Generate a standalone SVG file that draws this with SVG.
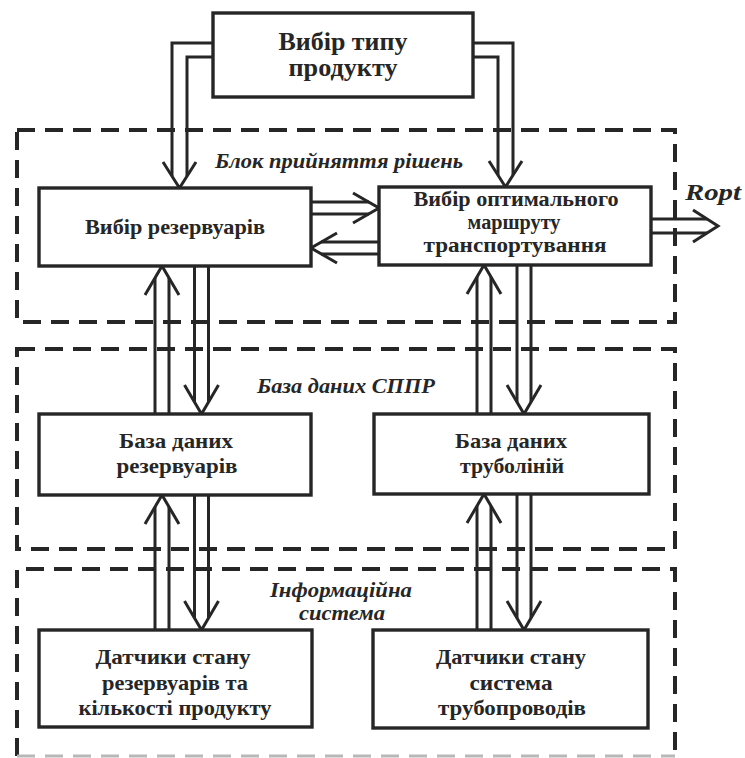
<svg xmlns="http://www.w3.org/2000/svg" width="745" height="758" viewBox="0 0 745 758">
  <style>
    .zone { fill: none; stroke: #262626; stroke-width: 4; stroke-dasharray: 18 10; }
    .zone-faint { fill: none; stroke: #b8b8b8; stroke-width: 3; stroke-dasharray: 18 10; }
    .box { fill: #ffffff; stroke: #262626; stroke-width: 3.4; }
    .wire { fill: none; stroke: #262626; stroke-width: 3; stroke-linejoin: miter; }
    .head { fill: none; stroke: #262626; stroke-width: 3; stroke-linejoin: miter; }
    .t { font-family: "Liberation Serif", "Times New Roman", serif; font-weight: bold; fill: #262626; text-anchor: middle; }
    .lbl { font-family: "Liberation Serif", "Times New Roman", serif; font-weight: bold; font-style: italic; fill: #262626; text-anchor: middle; }
  </style>
  <rect width="745" height="758" fill="#ffffff"/>

  <!-- dashed zones -->
  <g id="zones">
    <path class="zone" d="M17,130 H675 V322 H17 Z"/>
    <path class="zone" d="M17,349 H675 V549 H17 Z"/>
    <path class="zone" d="M17,756 V569 H675 V758"/>
    <path class="zone-faint" d="M17,756 H675"/>
    <text class="lbl" x="339" y="168" font-size="21" textLength="248" lengthAdjust="spacingAndGlyphs">Блок прийняття рішень</text>
    <text class="lbl" x="346" y="393" font-size="21" textLength="178" lengthAdjust="spacingAndGlyphs">База даних СППР</text>
    <text class="lbl" x="341" y="597" font-size="21" textLength="142" lengthAdjust="spacingAndGlyphs">Інформаційна</text>
    <text class="lbl" x="342" y="620" font-size="21" textLength="86" lengthAdjust="spacingAndGlyphs">система</text>
  </g>

  <!-- connectors: double-line arrows with open heads -->
  <g id="connectors">
    <!-- product type -> reservoir choice -->
    <path class="wire" d="M213,43 H172 V176 M213,57 H187 V176"/>
    <path class="head" d="M163,162 L179.5,188 L196,162"/>
    <!-- product type -> route choice -->
    <path class="wire" d="M473,43 H513 V175 M473,57 H498 V175"/>
    <path class="head" d="M489,161 L505.5,187 L522,161"/>
    <!-- reservoir choice -> route choice -->
    <path class="wire" d="M311,202 H369 M311,214 H369"/>
    <path class="head" d="M353,193 L379,208 L353,223"/>
    <!-- route choice -> reservoir choice -->
    <path class="wire" d="M379,242 H321 M379,254 H321"/>
    <path class="head" d="M337,233 L311,248 L337,263"/>
    <!-- route choice -> Ropt -->
    <path class="wire" d="M651,219 H707 M651,233 H707"/>
    <path class="head" d="M693,210 L718,226 L693,242"/>

    <!-- left column -->
    <path class="wire" d="M155,414 V278 M169,414 V278"/>
    <path class="head" d="M145,295 L162,266 L179,295"/>
    <path class="wire" d="M194.5,266 V402 M208.5,266 V402"/>
    <path class="head" d="M184.5,385 L201.5,414 L218.5,385"/>
    <path class="wire" d="M155,630 V507 M169,630 V507"/>
    <path class="head" d="M145,524 L162,495 L179,524"/>
    <path class="wire" d="M194.5,495 V618 M208.5,495 V618"/>
    <path class="head" d="M184.5,601 L201.5,630 L218.5,601"/>

    <!-- right column -->
    <path class="wire" d="M477,414 V277 M491,414 V277"/>
    <path class="head" d="M467,294 L484,265 L501,294"/>
    <path class="wire" d="M517,265 V402 M531,265 V402"/>
    <path class="head" d="M507,385 L524,414 L541,385"/>
    <path class="wire" d="M477,630 V506 M491,630 V506"/>
    <path class="head" d="M467,523 L484,494 L501,523"/>
    <path class="wire" d="M517,494 V618 M531,494 V618"/>
    <path class="head" d="M507,601 L524,630 L541,601"/>

    <text class="lbl" x="713" y="200" font-size="24" textLength="56" lengthAdjust="spacingAndGlyphs">Ropt</text>
  </g>

  <g id="product-type">
    <rect class="box" x="213" y="13" width="260" height="84"/>
    <text class="t" x="343" y="50" font-size="25" textLength="129" lengthAdjust="spacingAndGlyphs">Вибір типу</text>
    <text class="t" x="343" y="76" font-size="25" textLength="109" lengthAdjust="spacingAndGlyphs">продукту</text>
  </g>

  <g id="reservoir-choice">
    <rect class="box" x="39" y="188" width="272" height="78"/>
    <text class="t" x="175" y="234" font-size="21" textLength="180" lengthAdjust="spacingAndGlyphs">Вибір резервуарів</text>
  </g>

  <g id="route-choice">
    <rect class="box" x="379" y="187" width="272" height="78"/>
    <text class="t" x="516" y="206" font-size="20" textLength="205" lengthAdjust="spacingAndGlyphs">Вибір оптимального</text>
    <text class="t" x="514" y="229" font-size="20" textLength="93" lengthAdjust="spacingAndGlyphs">маршруту</text>
    <text class="t" x="515" y="252" font-size="20" textLength="183" lengthAdjust="spacingAndGlyphs">транспортування</text>
  </g>

  <g id="reservoir-db">
    <rect class="box" x="39" y="414" width="272" height="81"/>
    <text class="t" x="176" y="448" font-size="21" textLength="114" lengthAdjust="spacingAndGlyphs">База даних</text>
    <text class="t" x="177" y="473" font-size="21" textLength="121" lengthAdjust="spacingAndGlyphs">резервуарів</text>
  </g>

  <g id="pipeline-db">
    <rect class="box" x="374" y="414" width="275" height="80"/>
    <text class="t" x="511" y="448" font-size="21" textLength="112" lengthAdjust="spacingAndGlyphs">База даних</text>
    <text class="t" x="512" y="473" font-size="21" textLength="104" lengthAdjust="spacingAndGlyphs">труболіній</text>
  </g>

  <g id="reservoir-sensors">
    <rect class="box" x="39" y="630" width="273" height="97"/>
    <text class="t" x="173" y="664" font-size="21" textLength="155" lengthAdjust="spacingAndGlyphs">Датчики стану</text>
    <text class="t" x="175" y="690" font-size="21" textLength="146" lengthAdjust="spacingAndGlyphs">резервуарів та</text>
    <text class="t" x="175" y="715" font-size="21" textLength="193" lengthAdjust="spacingAndGlyphs">кількості продукту</text>
  </g>

  <g id="pipeline-sensors">
    <rect class="box" x="373" y="630" width="275" height="98"/>
    <text class="t" x="511" y="664" font-size="21" textLength="150" lengthAdjust="spacingAndGlyphs">Датчики стану</text>
    <text class="t" x="511" y="690" font-size="21" textLength="83" lengthAdjust="spacingAndGlyphs">система</text>
    <text class="t" x="512" y="715" font-size="21" textLength="148" lengthAdjust="spacingAndGlyphs">трубопроводів</text>
  </g>
</svg>
